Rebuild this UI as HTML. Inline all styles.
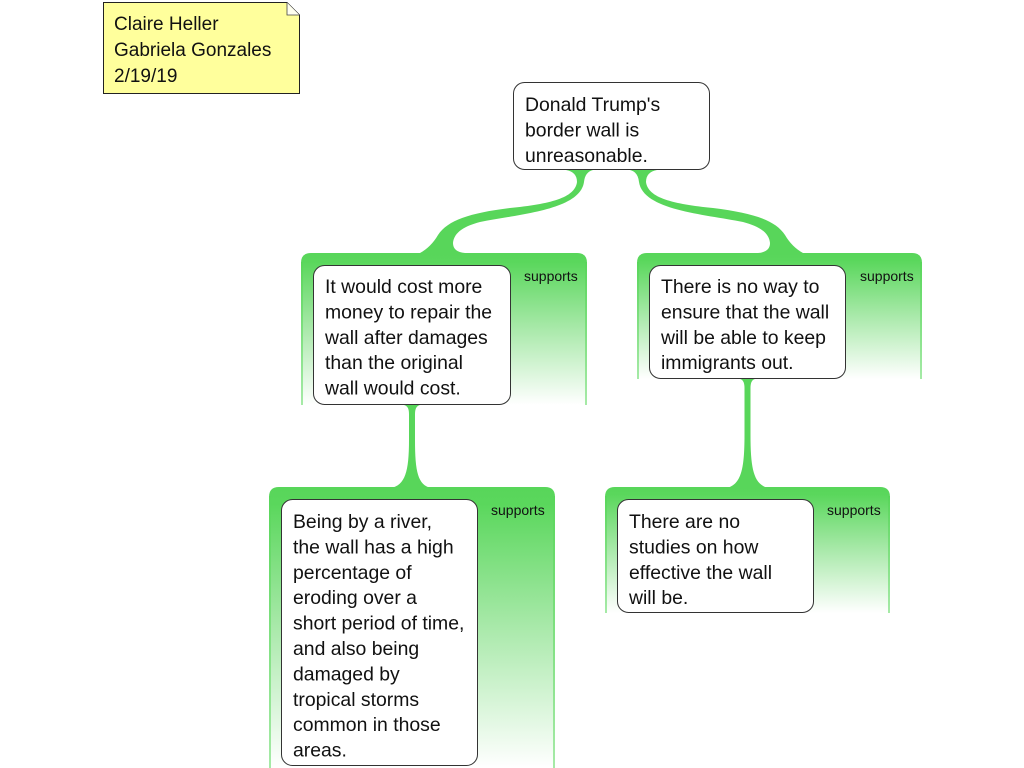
<!DOCTYPE html>
<html>
<head>
<meta charset="utf-8">
<style>
  html,body{margin:0;padding:0;background:#ffffff;}
  svg{display:block;}
  .t{font-family:"Liberation Sans",Arial,sans-serif;font-size:19.4px;fill:#111;}
  .s{font-family:"Liberation Sans",Arial,sans-serif;font-size:14px;fill:#111;}
  .n{font-family:"Comic Sans MS","Liberation Sans",sans-serif;font-size:19px;fill:#111;}
</style>
</head>
<body>
<svg width="1024" height="768" viewBox="0 0 1024 768" xmlns="http://www.w3.org/2000/svg">
  <defs>
    <linearGradient id="pg" x1="0" y1="0" x2="0" y2="1">
      <stop offset="0" stop-color="#58d65a"/>
      <stop offset="0.06" stop-color="#5ad75c"/>
      <stop offset="0.5" stop-color="#a9e9aa"/>
      <stop offset="1" stop-color="#ffffff"/>
    </linearGradient>
    <linearGradient id="sg" x1="0" y1="0" x2="0" y2="1">
      <stop offset="0" stop-color="#58d65a"/>
      <stop offset="1" stop-color="#a6eaa7"/>
    </linearGradient>
  </defs>

  <!-- Sticky note -->
  <path d="M103.5,2.5 L287,2.5 L299.5,15 L299.5,93.5 L103.5,93.5 Z" fill="#ffff9c" stroke="#222" stroke-width="1"/>
  <path d="M287,2.5 L287,15 L299.5,15" fill="#fffff0" stroke="#444" stroke-width="0.8"/>
  <text class="n" x="114" y="30">Claire Heller</text>
  <text class="n" x="114" y="56">Gabriela Gonzales</text>
  <text class="n" x="114" y="82">2/19/19</text>

  <!-- Panels -->
  <path d="M301,405 L301,263 Q301,253 311,253 L577,253 Q587,253 587,263 L587,405 Z" fill="url(#pg)"/>
  <rect x="301" y="262" width="2" height="143" fill="url(#sg)"/>
  <rect x="585" y="262" width="2" height="143" fill="url(#sg)"/>

  <path d="M637,379 L637,263 Q637,253 647,253 L912,253 Q922,253 922,263 L922,379 Z" fill="url(#pg)"/>
  <rect x="637" y="262" width="2" height="117" fill="url(#sg)"/>
  <rect x="920" y="262" width="2" height="117" fill="url(#sg)"/>

  <path d="M269,768 L269,497 Q269,487 279,487 L545,487 Q555,487 555,497 L555,768 Z" fill="url(#pg)"/>
  <rect x="269" y="496" width="2" height="272" fill="url(#sg)"/>
  <rect x="553" y="496" width="2" height="272" fill="url(#sg)"/>

  <path d="M605,613 L605,497 Q605,487 615,487 L880,487 Q890,487 890,497 L890,613 Z" fill="url(#pg)"/>
  <rect x="605" y="496" width="2" height="117" fill="url(#sg)"/>
  <rect x="888" y="496" width="2" height="117" fill="url(#sg)"/>

  <!-- Connectors -->
  <path d="M566,170 Q577,172 577,182 C575,198 550,204 510,208 C470,213 448,220 438,235 Q431,247 420,253 L465,253 Q453,252 453,243 C454,232 465,226 480,222 C520,214 580,210 584,182 Q585,172 593,170 Z" fill="#58d65a"/>
  <path d="M657,170 Q646,172 646,182 C648,198 673,204 713,208 C753,213 775,220 785,235 Q792,247 803,253 L758,253 Q770,252 770,243 C769,232 758,226 743,222 C703,214 643,210 639,182 Q638,172 630,170 Z" fill="#58d65a"/>
  <path d="M404,405 Q409,406 409,414 L409,440 C409,472 405,485 391,488 L431,488 C418,485 415,472 415,440 L415,414 Q415,406 420,405 Z" fill="#58d65a"/>
  <path d="M740,379 Q744.5,380 744.5,388 L744.5,435 C744.5,470 741,484 727,488 L768,488 C754,484 750.5,470 750.5,435 L750.5,388 Q750.5,380 755,379 Z" fill="#58d65a"/>

  <!-- supports labels -->
  <text class="s" x="524" y="281">supports</text>
  <text class="s" x="860" y="281">supports</text>
  <text class="s" x="491" y="515">supports</text>
  <text class="s" x="827" y="515">supports</text>

  <!-- Nodes -->
  <rect x="513.5" y="82.5" width="196" height="87" rx="11" ry="11" fill="#fff" stroke="#333" stroke-width="1"/>
  <text class="t" x="525" y="111">Donald Trump's</text>
  <text class="t" x="525" y="136.5">border wall is</text>
  <text class="t" x="525" y="162">unreasonable.</text>

  <rect x="313.5" y="265.5" width="197" height="139" rx="11" ry="11" fill="#fff" stroke="#333" stroke-width="1"/>
  <text class="t" x="325" y="293">It would cost more</text>
  <text class="t" x="325" y="318.4">money to repair the</text>
  <text class="t" x="325" y="343.8">wall after damages</text>
  <text class="t" x="325" y="369.2">than the original</text>
  <text class="t" x="325" y="394.6">wall would cost.</text>

  <rect x="649.5" y="265.5" width="196" height="113" rx="11" ry="11" fill="#fff" stroke="#333" stroke-width="1"/>
  <text class="t" x="661" y="293">There is no way to</text>
  <text class="t" x="661" y="318.4">ensure that the wall</text>
  <text class="t" x="661" y="343.8">will be able to keep</text>
  <text class="t" x="661" y="369.2">immigrants out.</text>

  <rect x="281.5" y="499.5" width="196" height="266" rx="11" ry="11" fill="#fff" stroke="#333" stroke-width="1"/>
  <text class="t" x="293" y="528">Being by a river,</text>
  <text class="t" x="293" y="553.4">the wall has a high</text>
  <text class="t" x="293" y="578.8">percentage of</text>
  <text class="t" x="293" y="604.2">eroding over a</text>
  <text class="t" x="293" y="629.6">short period of time,</text>
  <text class="t" x="293" y="655">and also being</text>
  <text class="t" x="293" y="680.4">damaged by</text>
  <text class="t" x="293" y="705.8">tropical storms</text>
  <text class="t" x="293" y="731.2">common in those</text>
  <text class="t" x="293" y="756.6">areas.</text>

  <rect x="617.5" y="499.5" width="196" height="113" rx="11" ry="11" fill="#fff" stroke="#333" stroke-width="1"/>
  <text class="t" x="629" y="528">There are no</text>
  <text class="t" x="629" y="553.4">studies on how</text>
  <text class="t" x="629" y="578.8">effective the wall</text>
  <text class="t" x="629" y="604.2">will be.</text>
</svg>
</body>
</html>
